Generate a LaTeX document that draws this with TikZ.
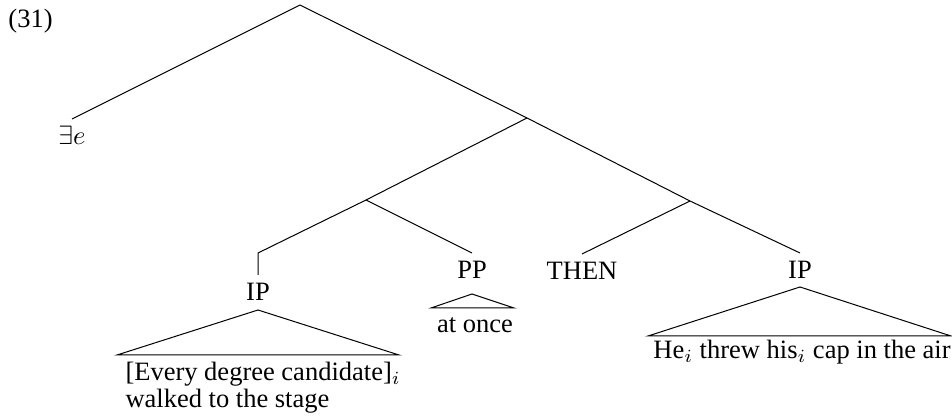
\documentclass[tikz,border=0pt]{standalone}
\usepackage{amsmath}
\usepackage{amssymb}
\usepackage{fix-cm}
\usepackage{fontspec}
\setmainfont{Liberation Serif}
\usepackage{tikz}

\begin{document}
\begin{tikzpicture}
        [
        x=0.4pt, y=-0.4pt,
        font=\fontsize{10.6pt}{10.9pt}\selectfont,
        cat/.style={inner xsep=0pt,inner ysep=3pt,text height=7pt,text depth=0pt,anchor=north},
        words/.style={inner sep=0pt,anchor=base},
        branch/.style={line width=0.4pt}
        ]
    \useasboundingbox (0,0) rectangle (952,417);
    \node[words,anchor=base west] (num) at (8,28) {(31)};
    % branching points
    \coordinate (0) at (300,5);
    \coordinate (1) at (527,118);
    \coordinate (2) at (690,201);
    \coordinate (3) at (366,200);
    \coordinate (k) at (258,253);
    % categories
    \node[cat] (ex) at (72,119) {$\exists e$};
    \node[cat] (ip1) at (258,275) {IP};
    \node[cat] (pp) at (472,253) {PP};
    \node[cat] (then) at (582,254) {THEN};
    \node[cat] (ip2) at (800,253) {IP};
    % roofs
    \coordinate (r1) at (258,310);
    \coordinate (r1l) at (117,355);
    \coordinate (r1r) at (399,355);
    \coordinate (r2) at (472,294);
    \coordinate (r2l) at (431,308);
    \coordinate (r2r) at (514,308);
    \coordinate (r3) at (800,287);
    \coordinate (r3l) at (648,336);
    \coordinate (r3r) at (951,336);
    \node[words,anchor=base west,align=left] (w1) at (125,408)
        {[Every degree candidate]$_i$\\walked to the stage};
    \node[words] (w2) at (475,333) {at once};
    \node[words] (w3) at (802,359) {He$_i$ threw his$_i$ cap in the air};
    \draw[branch] (0) -- (ex.north);
    \draw[branch] (0) -- (1);
    \draw[branch] (1) -- (3);
    \draw[branch] (1) -- (2);
    \draw[branch] (3) -- (k) -- (ip1.north);
    \draw[branch] (3) -- (pp.north);
    \draw[branch] (2) -- (then.north);
    \draw[branch] (2) -- (ip2.north);
    \draw[branch] (r1) -- (r1l) -- (r1r) -- cycle;
    \draw[branch] (r2) -- (r2l) -- (r2r) -- cycle;
    \draw[branch] (r3) -- (r3l) -- (r3r) -- cycle;
    \end{tikzpicture}
\end{document}
